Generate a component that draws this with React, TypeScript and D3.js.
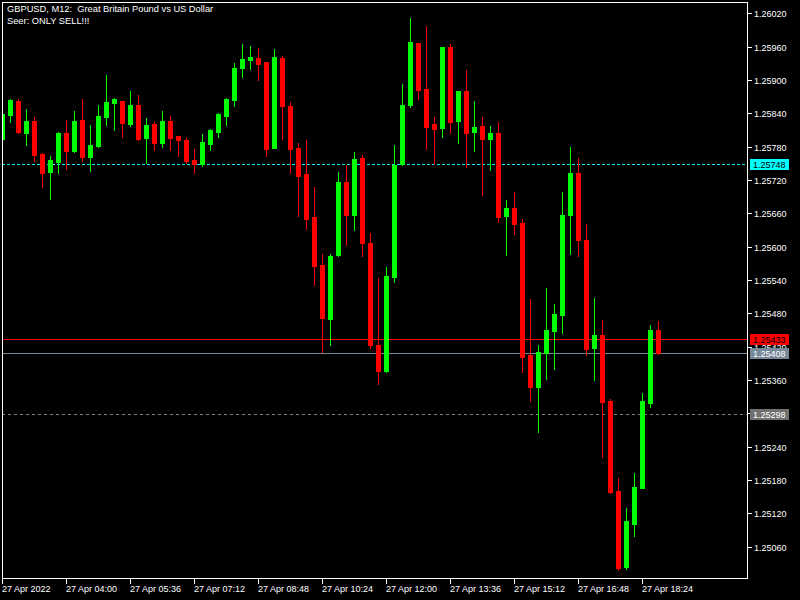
import React from "react";
import * as d3 from "d3";

const title = "GBPUSD, M12:  Great Britain Pound vs US Dollar";
const subtitle = "Seer: ONLY SELL!!!";

const opens = [1.25794,1.25837,1.25862,1.25805,1.25826,1.25767,1.25734,1.25752,1.25805,1.25772,1.25828,1.25761,1.25781,1.25833,1.25859,1.25862,1.25821,1.25855,1.25796,1.25821,1.25787,1.25826,1.25799,1.25792,1.25756,1.25749,1.25785,1.25806,1.25835,1.25864,1.25922,1.25936,1.25940,1.25932,1.25778,1.25940,1.25853,1.25778,1.25731,1.25653,1.25567,1.25470,1.25585,1.25716,1.25657,1.25760,1.25607,1.25423,1.25376,1.25545,1.25749,1.25855,1.25967,1.25884,1.25821,1.25814,1.25959,1.25826,1.25880,1.25806,1.25817,1.25794,1.25805,1.25655,1.25670,1.25643,1.25405,1.25347,1.25409,1.25448,1.25477,1.25657,1.25733,1.25612,1.25418,1.25441,1.25322,1.25160,1.25023,1.25101,1.25166,1.25319,1.25450];
const highs = [1.25842,1.25866,1.25865,1.25848,1.25833,1.25768,1.25763,1.25806,1.25828,1.25844,1.25866,1.25819,1.25855,1.25909,1.25867,1.25863,1.25880,1.25873,1.25832,1.25824,1.25844,1.25835,1.25800,1.25796,1.25776,1.25803,1.25811,1.25841,1.25868,1.25931,1.25965,1.25961,1.25958,1.25933,1.25956,1.25943,1.25860,1.25787,1.25792,1.25707,1.25587,1.25587,1.25734,1.25747,1.25770,1.25765,1.25625,1.25544,1.25563,1.25783,1.25893,1.26012,1.25967,1.25997,1.25833,1.25959,1.25965,1.25880,1.25918,1.25862,1.25833,1.25817,1.25824,1.25684,1.25698,1.25650,1.25506,1.25423,1.25526,1.25497,1.25698,1.25779,1.25760,1.25641,1.25508,1.25468,1.25326,1.25184,1.25130,1.25193,1.25337,1.25459,1.25466];
const lows = [1.25790,1.25824,1.25805,1.25783,1.25754,1.25707,1.25686,1.25733,1.25740,1.25771,1.25754,1.25736,1.25780,1.25819,1.25810,1.25797,1.25817,1.25792,1.25751,1.25774,1.25779,1.25774,1.25763,1.25751,1.25733,1.25745,1.25774,1.25797,1.25819,1.25853,1.25905,1.25920,1.25900,1.25763,1.25777,1.25794,1.25733,1.25655,1.25632,1.25531,1.25410,1.25423,1.25583,1.25603,1.25630,1.25583,1.25418,1.25353,1.25374,1.25536,1.25747,1.25851,1.25866,1.25776,1.25749,1.25797,1.25805,1.25787,1.25743,1.25772,1.25693,1.25738,1.25644,1.25585,1.25623,1.25374,1.25322,1.25266,1.25362,1.25380,1.25445,1.25587,1.25583,1.25405,1.25360,1.25221,1.25157,1.25018,1.25020,1.25079,1.25165,1.25311,1.25407];
const closes = [1.25839,1.25864,1.25806,1.25826,1.25765,1.25733,1.25756,1.25805,1.25772,1.25826,1.25761,1.25783,1.25835,1.25860,1.25866,1.25823,1.25855,1.25794,1.25819,1.25787,1.25826,1.25796,1.25792,1.25754,1.25749,1.25788,1.25810,1.25839,1.25866,1.25922,1.25938,1.25941,1.25929,1.25776,1.25941,1.25853,1.25776,1.25727,1.25650,1.25565,1.25472,1.25583,1.25716,1.25657,1.25758,1.25607,1.25423,1.25376,1.25547,1.25747,1.25855,1.25968,1.25882,1.25815,1.25812,1.25959,1.25824,1.25880,1.25805,1.25815,1.25794,1.25805,1.25653,1.25670,1.25641,1.25401,1.25347,1.25410,1.25450,1.25479,1.25657,1.25733,1.25612,1.25416,1.25441,1.25320,1.25158,1.25022,1.25106,1.25167,1.25322,1.25450,1.25408];

const priceTicks = [1.26020,1.25960,1.25900,1.25840,1.25780,1.25720,1.25660,1.25600,1.25540,1.25480,1.25420,1.25360,1.25300,1.25240,1.25180,1.25120,1.25060];
const timeLabels = ["27 Apr 2022","27 Apr 04:00","27 Apr 05:36","27 Apr 07:12","27 Apr 08:48","27 Apr 10:24","27 Apr 12:00","27 Apr 13:36","27 Apr 15:12","27 Apr 16:48","27 Apr 18:24"];
const timeLabelBars = [0,8,16,24,32,40,48,56,64,72,80];

const seerLevel = 1.25748;
const askLevel = 1.25433;
const bidLevel = 1.25408;
const lowLevel = 1.25298;

const W = 800, H = 600;
const L = 2, T = 2, R = 747, B = 578;
const FONT = "'Liberation Sans', Arial, sans-serif";

export default function App() {
  const y = d3.scaleLinear().domain([1.26020, 1.25060]).range([13.3, 546.7]);
  const x = d3.scaleLinear().domain([0, 82]).range([2.5, 658.5]);
  const py = (p: number) => Math.round(y(p));
  const fmt = d3.format(".5f");

  const candles = opens.map((o, i) => ({ o, h: highs[i], l: lows[i], c: closes[i], i }));

  const priceBox = (v: number, fill: string, txt: string) => {
    const yy = py(v);
    return (
      <g key={"pb" + v}>
        <rect x={750} y={yy - 5} width={39} height={11} fill={fill} />
        <text x={753} y={yy + 4} fontSize={9} fontFamily={FONT} fill={txt}>{fmt(v)}</text>
      </g>
    );
  };

  return (
    <svg width={W} height={H} style={{ position: "absolute", left: 0, top: 0, background: "#000" }} shapeRendering="crispEdges">
      <defs>
        <clipPath id="plot"><rect x={L + 1} y={T + 1} width={R - L - 1} height={B - T - 1} /></clipPath>
      </defs>
      <rect x={0} y={0} width={W} height={H} fill="#000" />
      <g clipPath="url(#plot)">
        <line x1={L} x2={R} y1={py(seerLevel) + 0.5} y2={py(seerLevel) + 0.5} stroke="#00ffff" strokeDasharray="3,2" />
        <line x1={L} x2={R} y1={py(askLevel) + 0.5} y2={py(askLevel) + 0.5} stroke="#ff0000" />
        <line x1={L} x2={R} y1={py(bidLevel) + 0.5} y2={py(bidLevel) + 0.5} stroke="#778899" />
        <line x1={L} x2={R} y1={py(lowLevel) + 0.5} y2={py(lowLevel) + 0.5} stroke="#808080" strokeDasharray="3,3" />
        {candles.map((d) => {
          const cx = x(d.i);
          const up = d.c >= d.o;
          const col = up ? "#00ff00" : "#ff0000";
          const top = py(Math.max(d.o, d.c));
          const bot = py(Math.min(d.o, d.c));
          return (
            <g key={d.i}>
              <rect x={cx - 0.5} y={py(d.h)} width={1} height={Math.max(1, py(d.l) - py(d.h) + 1)} fill={col} />
              <rect x={cx - 2.5} y={top} width={5} height={Math.max(1, bot - top + 1)} fill={col} />
            </g>
          );
        })}
      </g>
      <rect x={L + 0.5} y={T + 0.5} width={R - L} height={B - T} fill="none" stroke="#fff" />
      {priceTicks.map((p) => (
        <g key={p}>
          <line x1={R} x2={R + 5} y1={py(p) + 0.5} y2={py(p) + 0.5} stroke="#fff" />
          <text x={754} y={py(p) + 4} fontSize={9} fontFamily={FONT} fill="#fff">{fmt(p)}</text>
        </g>
      ))}
      {timeLabels.map((t, k) => {
        const tx = Math.floor(x(timeLabelBars[k]));
        return (
          <g key={t}>
            <line x1={tx + 0.5} x2={tx + 0.5} y1={B} y2={B + 6} stroke="#fff" />
            <text x={tx} y={592} fontSize={9} fontFamily={FONT} fill="#fff">{t}</text>
          </g>
        );
      })}
      {priceBox(seerLevel, "#00ffff", "#000")}
      {priceBox(askLevel, "#ff0000", "#000")}
      {priceBox(bidLevel, "#778899", "#fff")}
      {priceBox(lowLevel, "#707070", "#fff")}
      <text x={7} y={12} fontSize={9.3} fontFamily={FONT} fill="#fff" style={{ whiteSpace: "pre" }}>{title}</text>
      <text x={7} y={24} fontSize={9.3} fontFamily={FONT} fill="#fff">{subtitle}</text>
    </svg>
  );
}
